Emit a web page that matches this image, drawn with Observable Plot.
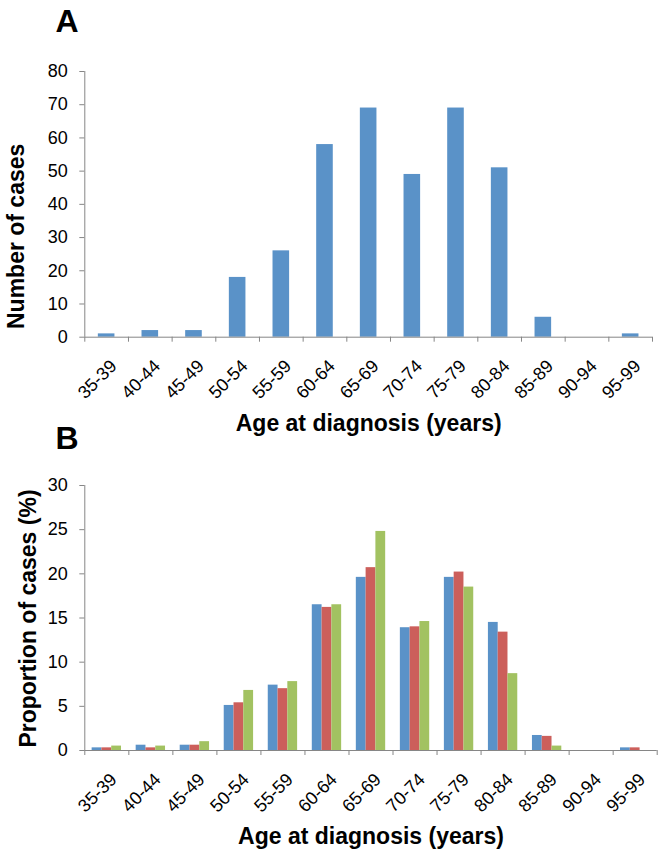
<!DOCTYPE html>
<html>
<head>
<meta charset="utf-8">
<script src="https://cdn.jsdelivr.net/npm/d3@7"></script>
<script src="https://cdn.jsdelivr.net/npm/@observablehq/plot@0.6"></script>
<style>
  html, body { margin: 0; padding: 0; background: #fff; }
  #chart { width: 664px; height: 855px; overflow: hidden; background: #fff; }
  #chart svg { display: block; overflow: visible; }
</style>
</head>
<body>
<div id="chart"></div>
<script>
// ---- data ----
const categories = ["35-39","40-44","45-49","50-54","55-59","60-64","65-69","70-74","75-79","80-84","85-89","90-94","95-99"];
const casesA = [1, 2, 2, 18, 26, 58, 69, 49, 69, 51, 6, 0, 1];
const propBlue = [0.3, 0.6, 0.6, 5.1, 7.4, 16.5, 19.6, 13.9, 19.6, 14.5, 1.7, 0, 0.3];
const propRed = [0.3, 0.3, 0.6, 5.4, 7.0, 16.2, 20.7, 14.0, 20.2, 13.4, 1.6, 0, 0.3];
const propGreen = [0.5, 0.5, 1.0, 6.8, 7.8, 16.5, 24.8, 14.6, 18.5, 8.7, 0.5, 0, 0];
const seriesColors = ["#5A92C8", "#CC5F5B", "#A2C261"];
const yTicksA = [0, 10, 20, 30, 40, 50, 60, 70, 80];
const yTicksB = [0, 5, 10, 15, 20, 25, 30];
const xTitle = "Age at diagnosis (years)";
const yTitleA = "Number of cases";
const yTitleB = "Proportion of cases (%)";

const font = "'Liberation Sans', Arial, sans-serif";
const axisColor = "#868686";
const tickFont = 18;
const boundaries = d3.range(0, categories.length + 1);

const dataA = categories.map((c, i) => ({cat: c, i, value: casesA[i]}));
const seriesB = [propBlue, propRed, propGreen];
const dataB = categories.flatMap((c, i) => seriesB.map((s, k) => ({cat: c, i, k, value: s[i], color: seriesColors[k]})));
const labelData = categories.map((c, i) => ({cat: c, i}));

function commonMarks(yTicks) {
  return [
    Plot.ruleY([0], {stroke: axisColor}),
    Plot.ruleX([0], {stroke: axisColor}),
    Plot.axisY({ticks: yTicks, tickSize: 5, tickFormat: () => "", color: axisColor, label: null}),
    Plot.axisY({ticks: yTicks, tickSize: 0, tickPadding: 17, color: "#000", fontSize: tickFont, label: null}),
    Plot.axisX({ticks: boundaries, tickSize: 5, tickFormat: () => "", color: axisColor, label: null}),
    Plot.text(labelData, {x: d => d.i + 0.5, frameAnchor: "bottom", text: "cat", rotate: -45,
      textAnchor: "end", lineAnchor: "middle", dx: 7, dy: 26, fontSize: tickFont, fill: "#000"})
  ];
}

// ---- Panel A ----
const plotA = Plot.plot({
  width: 664, height: 440,
  marginTop: 71, marginBottom: 103.3, marginLeft: 84.3, marginRight: 12,
  style: {fontFamily: font, fontSize: "18px", color: "#000", background: "transparent"},
  x: {domain: [0, categories.length], axis: null},
  y: {domain: [0, 80], axis: null},
  color: {type: "identity"},
  marks: [
    Plot.rectY(dataA, {x1: d => d.i + 0.31, x2: d => d.i + 0.69, y1: 0, y2: "value", fill: seriesColors[0]}),
    ...commonMarks(yTicksA),
    Plot.text([yTitleA], {text: d => d, frameAnchor: "left", rotate: -90, textAnchor: "middle", lineAnchor: "bottom",
      dx: -61, dy: 32, fontSize: 23, fontWeight: "bold", fill: "#000"}),
    Plot.text([xTitle], {text: d => d, frameAnchor: "bottom", textAnchor: "middle", lineAnchor: "bottom",
      dy: 94, fontSize: 23, fontWeight: "bold", fill: "#000"}),
    Plot.text(["A"], {text: d => d, frameAnchor: "top-left", textAnchor: "start", lineAnchor: "bottom",
      dx: -29.3, dy: -39.3, fontSize: 32, fontWeight: "bold", fill: "#000"})
  ]
});

// ---- Panel B ----
const plotB = Plot.plot({
  width: 664, height: 415,
  marginTop: 45, marginBottom: 105, marginLeft: 84.3, marginRight: 7.3,
  style: {fontFamily: font, fontSize: "18px", color: "#000", background: "transparent"},
  x: {domain: [0, categories.length], axis: null},
  y: {domain: [0, 30], axis: null},
  color: {type: "identity"},
  marks: [
    Plot.rectY(dataB, {x1: d => d.i + 1/6 + d.k * 2/9, x2: d => d.i + 1/6 + (d.k + 1) * 2/9, y1: 0, y2: "value", fill: "color"}),
    ...commonMarks(yTicksB),
    Plot.text([yTitleB], {text: d => d, frameAnchor: "left", rotate: -90, textAnchor: "middle", lineAnchor: "bottom",
      dx: -49.3, dy: 0.5, fontSize: 23, fontWeight: "bold", fill: "#000"}),
    Plot.text([xTitle], {text: d => d, frameAnchor: "bottom", textAnchor: "middle", lineAnchor: "bottom",
      dy: 93, fontSize: 23, fontWeight: "bold", fill: "#000"}),
    Plot.text(["B"], {text: d => d, frameAnchor: "top-left", textAnchor: "start", lineAnchor: "bottom",
      dx: -29.3, dy: -37, fontSize: 32, fontWeight: "bold", fill: "#000"})
  ]
});

document.getElementById("chart").append(plotA, plotB);
</script>
</body>
</html>
